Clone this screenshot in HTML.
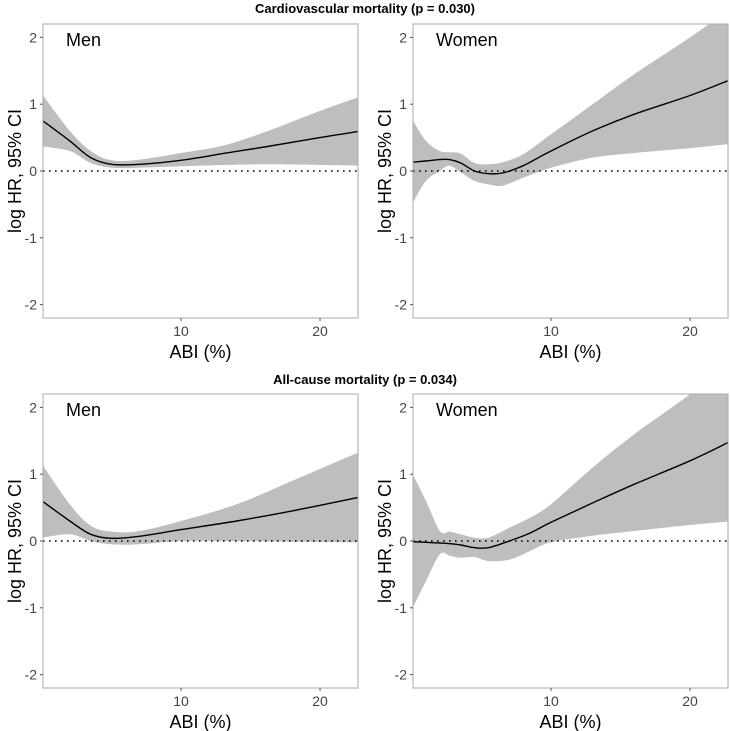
<!DOCTYPE html>
<html><head><meta charset="utf-8"><style>
body{margin:0;background:#fff;}
svg{display:block;font-family:"Liberation Sans",Arial,sans-serif;}
</style></head><body>
<svg id="chart" width="730" height="731" viewBox="0 0 730 731">
<text x="365" y="13" text-anchor="middle" font-size="13" font-weight="bold">Cardiovascular mortality (p = 0.030)</text>
<text x="365" y="384" text-anchor="middle" font-size="13" font-weight="bold">All-cause mortality (p = 0.034)</text>
</svg>
<script>
// Panel data
const xVals1 = [0,2,3.5,5,7,10,13,16,20,22.7];
const fit1 = [0.76,0.45,0.2,0.1,0.1,0.16,0.26,0.36,0.5,0.59];
const lo1 = [0.37,0.3,0.12,0.05,0.05,0.07,0.09,0.1,0.09,0.08];
const hi1 = [1.15,0.6,0.3,0.16,0.17,0.27,0.38,0.58,0.9,1.1];

const xVals2 = [0,1,2,2.7,3.5,4.5,5.5,6.5,8,10,13,16,20,22.7];
const fit2 = [0.13,0.15,0.17,0.17,0.12,0.0,-0.04,-0.03,0.08,0.3,0.6,0.85,1.13,1.35];
const lo2 = [-0.5,-0.15,0.0,0.08,-0.02,-0.15,-0.2,-0.22,-0.1,0.05,0.2,0.27,0.34,0.4];
const hi2 = [0.78,0.45,0.3,0.28,0.26,0.12,0.1,0.13,0.25,0.55,1.0,1.45,2.0,2.4];

const xVals3 = [0,2,3.5,5,7,10,14,18,22.7];
const fit3 = [0.6,0.3,0.1,0.04,0.07,0.17,0.3,0.45,0.65];
const lo3 = [0.05,0.1,0.0,-0.05,-0.05,0.0,0.0,-0.01,-0.02];
const hi3 = [1.15,0.55,0.23,0.14,0.15,0.3,0.55,0.9,1.32];

const xVals4 = [0,1,2,2.7,3.5,4.5,5.5,7,8.5,10,13,16,20,22.7];
const fit4 = [-0.01,-0.02,-0.03,-0.04,-0.06,-0.1,-0.1,0.0,0.12,0.28,0.57,0.85,1.2,1.47];
const lo4 = [-1.02,-0.6,-0.2,-0.22,-0.25,-0.24,-0.3,-0.28,-0.15,-0.02,0.08,0.15,0.24,0.29];
const hi4 = [1.02,0.6,0.15,0.14,0.1,0.05,0.05,0.2,0.35,0.55,1.1,1.6,2.2,2.7];

const yTicks = [2,1,0,-1,-2];
const xTicks = [10,20];
const panelLabels = ["Men","Women","Men","Women"];

const NS="http://www.w3.org/2000/svg";
const svg=document.getElementById('chart');
function mk(tag,attrs,parent){const e=document.createElementNS(NS,tag);for(const k in attrs)e.setAttribute(k,attrs[k]);(parent||svg).appendChild(e);return e;}
function smooth(pts,start){
 let d=start?'M'+pts[0][0].toFixed(1)+','+pts[0][1].toFixed(1):'L'+pts[0][0].toFixed(1)+','+pts[0][1].toFixed(1);
 for(let i=0;i<pts.length-1;i++){
  const p0=pts[Math.max(0,i-1)],p1=pts[i],p2=pts[i+1],p3=pts[Math.min(pts.length-1,i+2)];
  const c1=[p1[0]+(p2[0]-p0[0])/6,p1[1]+(p2[1]-p0[1])/6];
  const c2=[p2[0]-(p3[0]-p1[0])/6,p2[1]-(p3[1]-p1[1])/6];
  d+='C'+c1.map(v=>v.toFixed(1)).join(',')+' '+c2.map(v=>v.toFixed(1)).join(',')+' '+p2[0].toFixed(1)+','+p2[1].toFixed(1);
 }
 return d;
}

const panels=[
 {x0:43,y0:24,xs:xVals1,f:fit1,l:lo1,h:hi1},
 {x0:413,y0:24,xs:xVals2,f:fit2,l:lo2,h:hi2},
 {x0:43,y0:394,xs:xVals3,f:fit3,l:lo3,h:hi3},
 {x0:413,y0:394,xs:xVals4,f:fit4,l:lo4,h:hi4}
];
const W=315,H=294;
panels.forEach((p,i)=>{
 const sx=v=>p.x0+(v-0.07)*13.9;
 const sy=v=>p.y0+147-v*66.8;
 const g=mk('g',{});
 
 
 const cp=mk('clipPath',{id:'cp'+i},g);
 mk('rect',{x:p.x0,y:p.y0,width:W,height:H},cp);
 const inner=mk('g',{'clip-path':'url(#cp'+i+')'},g);
 const top=p.xs.map((x,k)=>[sx(x),sy(p.h[k])]);
 const bot=p.xs.map((x,k)=>[sx(x),sy(p.l[k])]).reverse();
 const band=mk('path',{d:smooth(top,true)+smooth(bot,false)+'Z',fill:'#bebebe'},inner);
 
 
 const zl=mk('line',{x1:p.x0,x2:p.x0+W,y1:sy(0),y2:sy(0),stroke:'#000','stroke-width':1.6,'stroke-dasharray':'1.6,4.4'},inner);
 
 
 const fp=p.xs.map((x,k)=>[sx(x),sy(p.f[k])]);
 const ln=mk('path',{d:smooth(fp,true),fill:'none',stroke:'#000','stroke-width':1.4},inner);
 
 
 const fr=mk('rect',{x:p.x0,y:p.y0,width:W,height:H,fill:'none',stroke:'#aaa','stroke-width':1},g);
 
 
 const pl=mk('text',{x:p.x0+23,y:p.y0+22,'font-size':18},g);
 pl.textContent=panelLabels[i];
 
 
 yTicks.forEach(t=>{
  mk('line',{x1:p.x0-3,x2:p.x0,y1:sy(t),y2:sy(t),stroke:'#555'},g);
  const tt=mk('text',{x:p.x0-6,y:sy(t)+5,'text-anchor':'end','font-size':14,fill:'#444'},g);
  tt.textContent=t<0?'-'+Math.abs(t):t;
  
  
 });
 xTicks.forEach(t=>{
  mk('line',{x1:sx(t),x2:sx(t),y1:p.y0+H,y2:p.y0+H+3,stroke:'#555'},g);
  const tt=mk('text',{x:sx(t),y:p.y0+H+18,'text-anchor':'middle','font-size':14,fill:'#444'},g);
  tt.textContent=t;
  
  
 });
 const xl=mk('text',{x:p.x0+W/2,y:p.y0+H+40,'text-anchor':'middle','font-size':18},g);
 xl.textContent='ABI (%)';
 
 
 const yl=mk('text',{x:0,y:0,'text-anchor':'middle','font-size':18,transform:'translate('+(p.x0-22)+','+(p.y0+H/2)+') rotate(-90)'},g);
 yl.textContent='log HR, 95% CI';
 
 
});
</script>
</body></html>
